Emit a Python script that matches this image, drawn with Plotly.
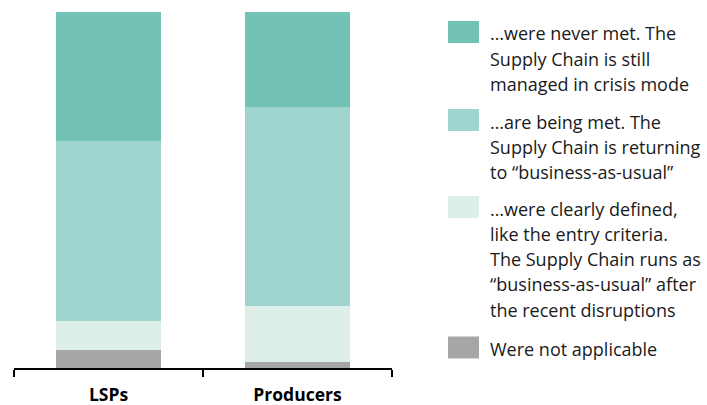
import plotly.graph_objects as go

W, H = 707, 405

categories = ["LSPs", "Producers"]

# Share of respondents per answer, stacked bottom to top
not_applicable = [5.1, 1.8]
clearly_defined = [8.3, 15.7]
being_met = [50.3, 55.8]
never_met = [36.3, 26.7]

series_names = [
    "Were not applicable",
    "…were clearly defined, like the entry criteria. The Supply Chain runs as “business-as-usual” after the recent disruptions",
    "…are being met. The Supply Chain is returning to “business-as-usual”",
    "…were never met. The Supply Chain is still managed in crisis mode",
]
series_values = [not_applicable, clearly_defined, being_met, never_met]
series_colors = ["#A6A6A8", "#DEEFE9", "#A0D5CF", "#72C2B5"]

# Legend entries, top to bottom, with their wrapped lines
legend_lines = [
    ["…were never met. The", "Supply Chain is still", "managed in crisis mode"],
    ["…are being met. The", "Supply Chain is returning", "to “business-as-usual”"],
    ["…were clearly defined,", "like the entry criteria.", "The Supply Chain runs as",
     "“business-as-usual” after", "the recent disruptions"],
    ["Were not applicable"],
]
legend_colors = series_colors[::-1]

FONT = "Open Sans"

fig = go.Figure()
for name, vals, col in zip(series_names, series_values, series_colors):
    fig.add_trace(go.Bar(
        x=categories, y=vals, name=name,
        marker=dict(color=col, line=dict(width=0)),
        width=0.556, showlegend=False,
    ))

# Pixel layout helpers (paper coordinates)
def px_x(x):
    return x / W

def px_y(y):
    return 1 - y / H

plot_left, plot_right = 14, 392
plot_top, plot_bottom = 11.7, 368.3

shapes = []
annotations = []

# Custom legend: swatch + line-by-line text
item_tops = [21, 109, 196, 336.5]
line_step = 25.3
for top, lines, col in zip(item_tops, legend_lines, legend_colors):
    shapes.append(dict(
        type="rect", xref="paper", yref="paper",
        x0=px_x(448), x1=px_x(479), y0=px_y(top), y1=px_y(top + 22),
        fillcolor=col, line=dict(width=0),
    ))
    for i, ln in enumerate(lines):
        annotations.append(dict(
            xref="paper", yref="paper", x=px_x(488), y=px_y(top + 12.5 + i * line_step),
            xanchor="left", yanchor="middle", showarrow=False, text=ln,
            font=dict(family=FONT, size=18, color="#1a1a1a"),
        ))

fig.update_layout(
    width=W, height=H,
    margin=dict(l=0, r=0, t=0, b=0),
    paper_bgcolor="white", plot_bgcolor="white",
    barmode="stack",
    showlegend=False,
    xaxis=dict(
        domain=[px_x(plot_left), px_x(plot_right)],
        range=[-0.5, 1.5],
        automargin=False,
        showline=True, linecolor="#000000", linewidth=1.5,
        ticks="outside", tickson="boundaries", ticklen=7,
        tickcolor="#000000", tickwidth=1.5,
        showgrid=False, zeroline=False,
        ticklabelstandoff=10,
        tickfont=dict(family=FONT, size=17.5, color="#000000", weight="bold"),
    ),
    yaxis=dict(
        domain=[px_y(plot_bottom), px_y(plot_top)],
        range=[0, 100],
        automargin=False,
        visible=False, showgrid=False, zeroline=False,
    ),
    shapes=shapes,
    annotations=annotations,
)

fig.write_html("out.html")
